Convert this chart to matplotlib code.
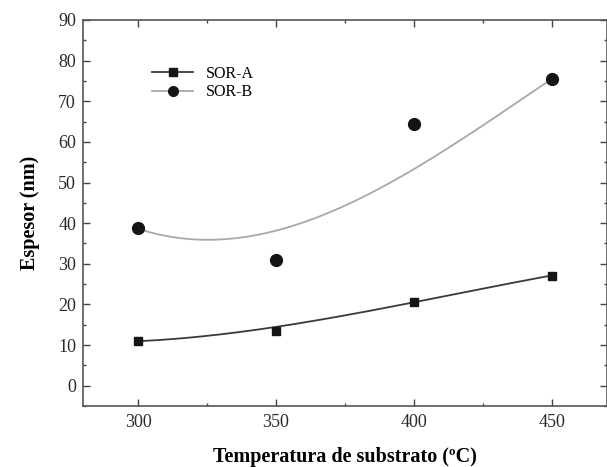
import numpy as np
import matplotlib
matplotlib.use("Agg")
import matplotlib.pyplot as plt
from matplotlib.ticker import MultipleLocator

# measured points
temps = [300, 350, 400, 450]
sor_a = [10.9, 13.4, 20.6, 27.1]
sor_b = [38.7, 30.9, 64.4, 75.6]
labels = ["SOR-A", "SOR-B"]

# trend curves
trend_x = [300, 325, 350, 375, 400, 425, 450]
trend_a = [10.9, 12.4, 14.4, 17.2, 20.6, 23.9, 27.1]
trend_b = [38.7, 35.8, 37.9, 44.8, 53.2, 63.8, 75.6]

plt.rcParams['font.family'] = ['Liberation Serif', 'DejaVu Serif']

fig = plt.figure(figsize=(6.07, 4.67), dpi=100)
ax = fig.add_axes([0.1367, 0.1306, 0.863, 0.8266])

xs = np.linspace(trend_x[0], trend_x[-1], 200)
ca = np.polyval(np.polyfit(trend_x, trend_a, 3), xs)
cb = np.polyval(np.polyfit(trend_x, trend_b, 3), xs)

ax.plot(xs, ca, color='#3a3a3a', lw=1.3, zorder=2)
ax.plot(xs, cb, color='#a8a8a8', lw=1.3, zorder=2)
ax.plot(temps, sor_a, linestyle='none', marker='s', ms=6, color='#151515', zorder=3)
ax.plot(temps, sor_b, linestyle='none', marker='o', ms=8.5, color='#151515', zorder=3)

# legend proxies
ax.plot([], [], color='#3a3a3a', lw=1.3, marker='s', ms=6, mfc='#151515', mec='#151515', label=labels[0])
ax.plot([], [], color='#a8a8a8', lw=1.3, marker='o', ms=7, mfc='#151515', mec='#151515', label=labels[1])
ax.legend(loc='upper left', bbox_to_anchor=(0.11, 0.91), frameon=False, fontsize=11.5,
          handlelength=2.6, handletextpad=0.8, labelspacing=0.15, borderpad=0.2)

ax.set_xlim(280, 470)
ax.set_ylim(-5, 90)
ax.xaxis.set_major_locator(MultipleLocator(50))
ax.xaxis.set_minor_locator(MultipleLocator(25))
ax.yaxis.set_major_locator(MultipleLocator(10))
ax.yaxis.set_minor_locator(MultipleLocator(5))

ax.tick_params(which='both', direction='in', top=True, right=True, colors='#444444',
               labelcolor='#2a2a2a', width=1.0)
ax.tick_params(which='major', length=5, labelsize=13)
ax.tick_params(axis='x', which='major', pad=6)
ax.tick_params(axis='y', which='major', pad=5)
ax.tick_params(which='minor', length=2.5)
for s in ax.spines.values():
    s.set_color('#555555')
    s.set_linewidth(1.2)

ax.set_xlabel('Temperatura de substrato (ºC)', fontsize=14.5, fontweight='bold', labelpad=11)
ax.set_ylabel('Espesor (nm)', fontsize=14.5, fontweight='bold', labelpad=13)

fig.savefig('out.png', dpi=100)
